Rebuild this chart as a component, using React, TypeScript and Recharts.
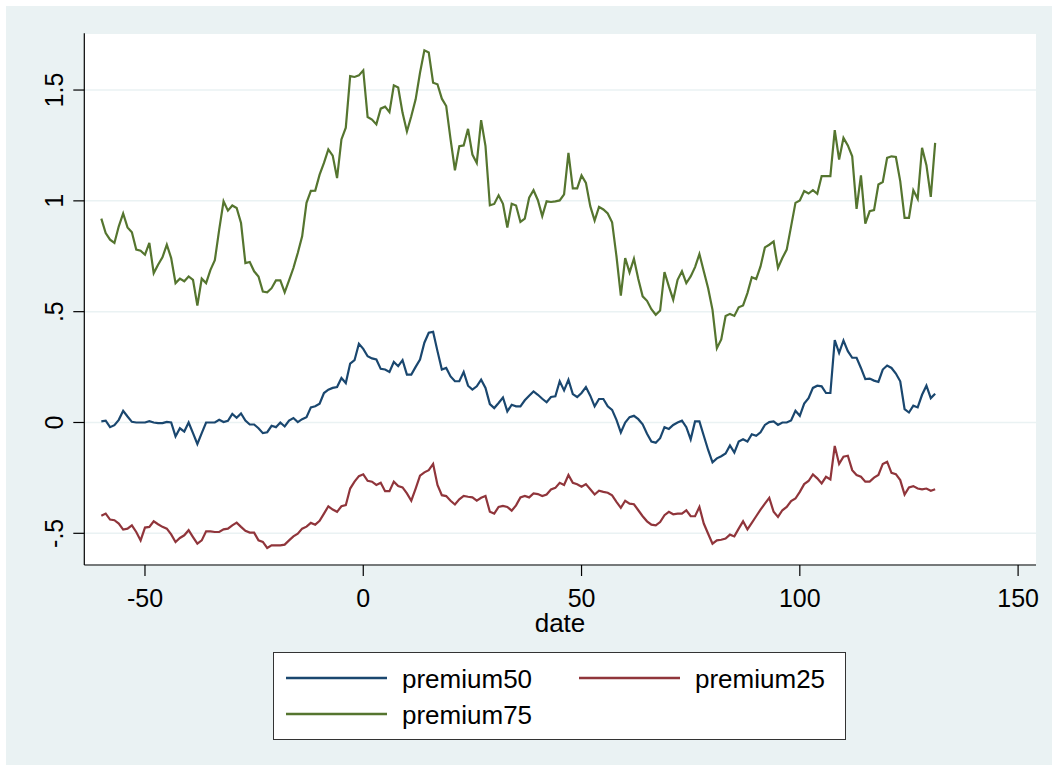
import React from 'react';
import { LineChart, Line, XAxis, YAxis, CartesianGrid, Label } from 'recharts';

const DATES = [
  -60, -59, -58, -57, -56, -55, -54, -53, -52, -51, -50, -49,
  -48, -47, -46, -45, -44, -43, -42, -41, -40, -39, -38, -37,
  -36, -35, -34, -33, -32, -31, -30, -29, -28, -27, -26, -25,
  -24, -23, -22, -21, -20, -19, -18, -17, -16, -15, -14, -13,
  -12, -11, -10, -9, -8, -7, -6, -5, -4, -3, -2, -1,
  0, 1, 2, 3, 4, 5, 6, 7, 8, 9, 10, 11,
  12, 13, 14, 15, 16, 17, 18, 19, 20, 21, 22, 23,
  24, 25, 26, 27, 28, 29, 30, 31, 32, 33, 34, 35,
  36, 37, 38, 39, 40, 41, 42, 43, 44, 45, 46, 47,
  48, 49, 50, 51, 52, 53, 54, 55, 56, 57, 58, 59,
  60, 61, 62, 63, 64, 65, 66, 67, 68, 69, 70, 71,
  72, 73, 74, 75, 76, 77, 78, 79, 80, 81, 82, 83,
  84, 85, 86, 87, 88, 89, 90, 91, 92, 93, 94, 95,
  96, 97, 98, 99, 100, 101, 102, 103, 104, 105, 106, 107,
  108, 109, 110, 111, 112, 113, 114, 115, 116, 117, 118, 119,
  120, 121, 122, 123, 124, 125, 126, 127, 128, 129, 130, 131,
];

const PREMIUM50 = [
  0.005, 0.008, -0.021, -0.012, 0.012, 0.053, 0.027, 0.003, 0, 0, 0, 0.006,
  0, -0.003, -0.003, 0.003, 0, -0.063, -0.026, -0.041, 0, -0.048, -0.097, -0.048,
  0, 0, 0, 0.012, 0.002, 0.008, 0.039, 0.021, 0.041, 0.009, -0.009, -0.009,
  -0.026, -0.048, -0.044, -0.015, -0.021, 0, -0.018, 0.009, 0.02, 0.002, 0.015, 0.024,
  0.068, 0.073, 0.085, 0.133, 0.148, 0.156, 0.16, 0.201, 0.178, 0.266, 0.281, 0.355,
  0.332, 0.299, 0.289, 0.284, 0.242, 0.239, 0.228, 0.273, 0.254, 0.281, 0.216, 0.216,
  0.251, 0.284, 0.36, 0.405, 0.409, 0.322, 0.239, 0.246, 0.208, 0.186, 0.186, 0.228,
  0.166, 0.148, 0.163, 0.193, 0.156, 0.083, 0.065, 0.088, 0.113, 0.05, 0.08, 0.073,
  0.073, 0.1, 0.121, 0.14, 0.125, 0.107, 0.091, 0.115, 0.118, 0.186, 0.145, 0.193,
  0.128, 0.115, 0.133, 0.16, 0.121, 0.073, 0.106, 0.106, 0.073, 0.057, 0.012, -0.045,
  0, 0.024, 0.03, 0.015, -0.008, -0.051, -0.086, -0.091, -0.071, -0.021, -0.029, -0.011,
  0, 0.008, -0.021, -0.076, 0.005, 0.005, -0.06, -0.124, -0.18, -0.162, -0.152, -0.14,
  -0.104, -0.136, -0.086, -0.076, -0.086, -0.053, -0.06, -0.044, -0.011, 0.002, 0.005, -0.011,
  0, 0, 0.009, 0.053, 0.03, 0.085, 0.11, 0.156, 0.166, 0.163, 0.133, 0.133,
  0.372, 0.314, 0.37, 0.322, 0.292, 0.292, 0.246, 0.196, 0.198, 0.189, 0.183, 0.239,
  0.257, 0.246, 0.221, 0.186, 0.06, 0.045, 0.076, 0.068, 0.125, 0.166, 0.11, 0.13,
];

const PREMIUM25 = [
  -0.421, -0.411, -0.438, -0.441, -0.456, -0.483, -0.479, -0.464, -0.494, -0.532, -0.474, -0.471,
  -0.446, -0.459, -0.471, -0.479, -0.505, -0.539, -0.521, -0.509, -0.486, -0.517, -0.547, -0.532,
  -0.491, -0.491, -0.494, -0.494, -0.482, -0.479, -0.464, -0.452, -0.471, -0.489, -0.497, -0.497,
  -0.532, -0.539, -0.566, -0.554, -0.554, -0.554, -0.551, -0.532, -0.514, -0.502, -0.479, -0.47,
  -0.453, -0.461, -0.444, -0.411, -0.378, -0.393, -0.403, -0.378, -0.373, -0.298, -0.267, -0.242,
  -0.234, -0.263, -0.267, -0.282, -0.272, -0.31, -0.31, -0.267, -0.287, -0.293, -0.32, -0.353,
  -0.298, -0.24, -0.225, -0.215, -0.187, -0.282, -0.328, -0.332, -0.353, -0.37, -0.347, -0.331,
  -0.335, -0.338, -0.353, -0.34, -0.332, -0.403, -0.411, -0.381, -0.376, -0.381, -0.398, -0.374,
  -0.338, -0.331, -0.338, -0.32, -0.323, -0.332, -0.325, -0.302, -0.295, -0.272, -0.282, -0.237,
  -0.272, -0.279, -0.29, -0.278, -0.301, -0.325, -0.308, -0.313, -0.317, -0.329, -0.358, -0.385,
  -0.353, -0.366, -0.369, -0.396, -0.423, -0.446, -0.461, -0.464, -0.449, -0.418, -0.403, -0.414,
  -0.411, -0.411, -0.396, -0.423, -0.423, -0.381, -0.456, -0.502, -0.547, -0.532, -0.529, -0.524,
  -0.506, -0.514, -0.479, -0.446, -0.482, -0.453, -0.423, -0.393, -0.366, -0.34, -0.403, -0.426,
  -0.396, -0.381, -0.355, -0.343, -0.313, -0.278, -0.264, -0.234, -0.252, -0.275, -0.245, -0.257,
  -0.106, -0.187, -0.154, -0.15, -0.215, -0.237, -0.245, -0.267, -0.267, -0.249, -0.237, -0.187,
  -0.177, -0.227, -0.233, -0.26, -0.325, -0.293, -0.287, -0.298, -0.302, -0.298, -0.308, -0.301,
];

const PREMIUM75 = [
  0.92, 0.855, 0.825, 0.81, 0.885, 0.943, 0.88, 0.858, 0.78, 0.775, 0.757, 0.81,
  0.674, 0.712, 0.745, 0.802, 0.742, 0.629, 0.649, 0.637, 0.659, 0.644, 0.528, 0.649,
  0.629, 0.689, 0.732, 0.87, 0.998, 0.956, 0.979, 0.968, 0.9, 0.719, 0.724, 0.682,
  0.659, 0.591, 0.587, 0.606, 0.641, 0.641, 0.587, 0.641, 0.697, 0.765, 0.84, 0.991,
  1.045, 1.046, 1.118, 1.171, 1.232, 1.204, 1.103, 1.277, 1.33, 1.563, 1.559, 1.566,
  1.589, 1.378, 1.367, 1.345, 1.416, 1.425, 1.4, 1.521, 1.511, 1.397, 1.313, 1.382,
  1.458, 1.578, 1.679, 1.669, 1.533, 1.526, 1.461, 1.428, 1.277, 1.138, 1.247, 1.25,
  1.325, 1.209, 1.171, 1.364, 1.247, 0.98, 0.986, 1.025, 0.987, 0.88, 0.987, 0.979,
  0.905, 0.92, 1.014, 1.048, 1.003, 0.931, 0.998, 0.995, 0.998, 1.002, 1.029, 1.217,
  1.056, 1.056, 1.115, 1.081, 0.976, 0.911, 0.973, 0.961, 0.943, 0.903, 0.75, 0.572,
  0.742, 0.677, 0.739, 0.647, 0.569, 0.549, 0.511, 0.486, 0.505, 0.679, 0.614, 0.554,
  0.644, 0.682, 0.629, 0.659, 0.701, 0.76, 0.682, 0.606, 0.508, 0.335, 0.375, 0.48,
  0.49, 0.481, 0.52, 0.528, 0.584, 0.655, 0.647, 0.704, 0.79, 0.802, 0.817, 0.697,
  0.742, 0.78, 0.885, 0.991, 1.002, 1.044, 1.033, 1.048, 1.032, 1.112, 1.112, 1.112,
  1.319, 1.186, 1.284, 1.25, 1.201, 0.964, 1.115, 0.897, 0.953, 0.958, 1.074, 1.085,
  1.194, 1.201, 1.198, 1.089, 0.923, 0.923, 1.048, 1.009, 1.239, 1.161, 1.018, 1.262,
];

const X_TICKS = [-50, 0, 50, 100, 150];
const Y_TICKS = [-0.5, 0, 0.5, 1, 1.5];
const Y_LABELS = ['-.5', '0', '.5', '1', '1.5'];

const SERIES = [
  { key: 'premium50', name: 'premium50', color: '#1a476f' },
  { key: 'premium25', name: 'premium25', color: '#90353b' },
  { key: 'premium75', name: 'premium75', color: '#55752f' },
];

const FONT = '"Liberation Sans", Arial, Helvetica, sans-serif';
const BG = '#eaf2f3';

const data = DATES.map((date, i) => ({
  date,
  premium50: PREMIUM50[i],
  premium25: PREMIUM25[i],
  premium75: PREMIUM75[i],
}));

const YTick = (props: any) => {
  const { y, payload } = props;
  const idx = Y_TICKS.indexOf(payload.value);
  const lx = 63.5;
  return (
    <text
      x={lx}
      y={y}
      transform={`rotate(-90, ${lx}, ${y})`}
      textAnchor="middle"
      fontSize={25}
      fontFamily={FONT}
      fill="#000"
    >
      {idx >= 0 ? Y_LABELS[idx] : payload.value}
    </text>
  );
};

const XTick = (props: any) => {
  const { x, payload } = props;
  return (
    <text x={x} y={607} textAnchor="middle" fontSize={25} fontFamily={FONT} fill="#000">
      {payload.value}
    </text>
  );
};

function LegendBox() {
  const rows = [
    { s: SERIES[0], lx: 12, ty: 35, ly: 25 },
    { s: SERIES[1], lx: 305, ty: 35, ly: 25 },
    { s: SERIES[2], lx: 12, ty: 71, ly: 61 },
  ];
  return (
    <div
      style={{
        position: 'absolute',
        left: 273,
        top: 652,
        width: 571,
        height: 86,
        border: '1.5px solid #333',
        background: '#fff',
      }}
    >
      <svg width={571} height={86} style={{ display: 'block' }}>
        {rows.map(({ s, lx, ty, ly }) => (
          <g key={s.key}>
            <line x1={lx} x2={lx + 101} y1={ly} y2={ly} stroke={s.color} strokeWidth={2.5} />
            <text x={lx + 116} y={ty} fontSize={26} fontFamily={FONT} fill="#000">
              {s.name}
            </text>
          </g>
        ))}
      </svg>
    </div>
  );
}

export default function App() {
  return (
    <div style={{ position: 'absolute', left: 0, top: 0, width: 1058, height: 771, background: '#fff' }}>
      <div style={{ position: 'absolute', left: 6, top: 6, width: 1046, height: 759, background: BG }} />
      <div style={{ position: 'absolute', left: 0, top: 0 }}>
        <LineChart
          width={1058}
          height={771}
          data={data}
          margin={{ top: 33.3, left: 83.3, right: 22, bottom: 205 }}
        >
          <CartesianGrid vertical={false} stroke={BG} strokeWidth={1.5} fill="#fff" />
          <XAxis
            dataKey="date"
            type="number"
            domain={[-63.9, 154.1]}
            ticks={X_TICKS}
            allowDataOverflow
            height={1}
            tickSize={11}
            axisLine={{ stroke: '#000', strokeWidth: 1.2 }}
            tickLine={{ stroke: '#000', strokeWidth: 1.2 }}
            tick={<XTick />}
            label={
              <Label
                content={() => (
                  <text x={560} y={632} textAnchor="middle" fontSize={26} fontFamily={FONT} fill="#000">
                    date
                  </text>
                )}
              />
            }
          />
          <YAxis
            type="number"
            domain={[-0.643, 1.756]}
            ticks={Y_TICKS}
            allowDataOverflow
            width={1}
            tickSize={11}
            axisLine={{ stroke: '#000', strokeWidth: 1.2 }}
            tickLine={{ stroke: '#000', strokeWidth: 1.2 }}
            tick={<YTick />}
          />
          {SERIES.map((s) => (
            <Line
              key={s.key}
              dataKey={s.key}
              name={s.name}
              type="linear"
              stroke={s.color}
              strokeWidth={2.2}
              dot={false}
              activeDot={false}
              isAnimationActive={false}
            />
          ))}
        </LineChart>
      </div>
      <LegendBox />
    </div>
  );
}
